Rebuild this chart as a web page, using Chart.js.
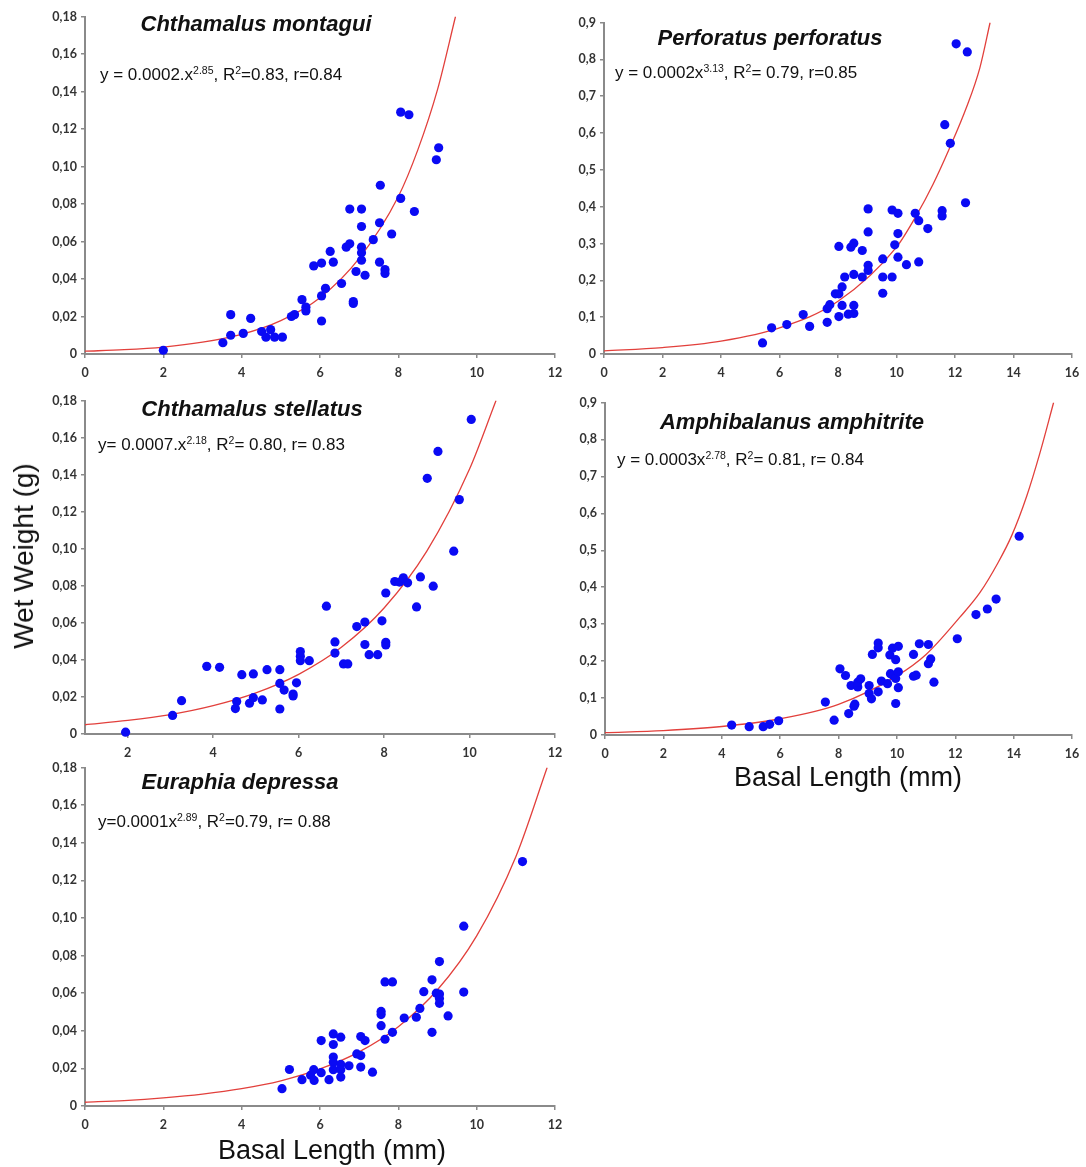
<!DOCTYPE html>
<html>
<head>
<meta charset="utf-8">
<script src="https://cdn.jsdelivr.net/npm/chart.js@4.4.0/dist/chart.umd.min.js"></script>
<style>
  body { margin: 0; background: #fff; }
  #page { position: relative; width: 1086px; height: 1167px; overflow: hidden; background: #fff; }
  canvas { position: absolute; }
  .title { position: absolute; font: italic bold 22px "Liberation Sans", Arial, sans-serif; color: #111; white-space: nowrap; transform: translate(-50%, -50%); }
  .eq { position: absolute; font: 17px "Liberation Sans", Arial, sans-serif; color: #111; white-space: nowrap; transform: translateY(-50%); }
  .eq sup { font-size: 10.5px; vertical-align: 6px; line-height: 0; }
  .axtitle { position: absolute; font: 27px "Liberation Sans", Arial, sans-serif; color: #111; white-space: nowrap; transform: translate(-50%, -50%); }
  .axtitle.rot { font-size: 28px; transform: translate(-50%, -50%) rotate(-90deg); }
</style>
</head>
<body>
<div id="page">
  <canvas id="c1"></canvas>
  <canvas id="c2"></canvas>
  <canvas id="c3"></canvas>
  <canvas id="c4"></canvas>
  <canvas id="c5"></canvas>

  <div class="title" style="left:256px;top:24px">Chthamalus montagui</div>
  <div class="title" style="left:770px;top:38px">Perforatus perforatus</div>
  <div class="title" style="left:252px;top:409px">Chthamalus stellatus</div>
  <div class="title" style="left:792px;top:422px">Amphibalanus amphitrite</div>
  <div class="title" style="left:240px;top:782px">Euraphia depressa</div>

  <div class="eq" style="left:100px;top:75px">y = 0.0002.x<sup>2.85</sup>, R<sup>2</sup>=0.83, r=0.84</div>
  <div class="eq" style="left:615px;top:73px">y = 0.0002x<sup>3.13</sup>, R<sup>2</sup>= 0.79, r=0.85</div>
  <div class="eq" style="left:98px;top:445px">y= 0.0007.x<sup>2.18</sup>, R<sup>2</sup>= 0.80, r= 0.83</div>
  <div class="eq" style="left:617px;top:460px">y = 0.0003x<sup>2.78</sup>, R<sup>2</sup>= 0.81, r= 0.84</div>
  <div class="eq" style="left:98px;top:822px">y=0.0001x<sup>2.89</sup>, R<sup>2</sup>=0.79, r= 0.88</div>

  <div class="axtitle rot" style="left:24px;top:556px">Wet Weight (g)</div>
  <div class="axtitle" style="left:848px;top:777px">Basal Length (mm)</div>
  <div class="axtitle" style="left:332px;top:1150px">Basal Length (mm)</div>
</div>

<script>
// Chthamalus montagui
const montaguiX = [2.0, 3.52, 3.72, 3.72, 4.04, 4.23, 4.51, 4.62, 4.74, 4.84, 5.04, 5.27, 5.35, 5.54, 5.64, 5.64,
  5.84, 6.04, 6.04, 6.04, 6.14, 6.26, 6.34, 6.55, 6.67, 6.76, 6.76, 6.85, 6.85, 6.92, 7.06, 7.06, 7.06, 7.06, 7.06,
  7.15, 7.36, 7.54, 7.52, 7.52, 7.66, 7.66, 7.83, 8.06, 8.06, 8.27, 8.41, 8.97, 9.03];
const montaguiY = [0.002, 0.006, 0.021, 0.010, 0.011, 0.019, 0.012, 0.009, 0.013, 0.009, 0.009, 0.020, 0.021, 0.029, 0.025, 0.023,
  0.047, 0.0485, 0.031, 0.0176, 0.035, 0.0547, 0.049, 0.0376, 0.057, 0.0588, 0.0773, 0.028, 0.027, 0.044, 0.0773, 0.068, 0.057, 0.054, 0.050,
  0.042, 0.061, 0.090, 0.070, 0.049, 0.045, 0.043, 0.064, 0.083, 0.129, 0.1276, 0.076, 0.1036, 0.110];
const montaguiFitX = [0, 1, 2, 3, 4, 5, 6, 7, 8, 8.5, 9, 9.46];
const montaguiFitY = [0.0015, 0.0023, 0.0037, 0.0063, 0.0105, 0.0178, 0.030, 0.051, 0.084, 0.109, 0.141, 0.18];

// Perforatus perforatus
const perforatusX = [5.42, 5.73, 6.25, 6.81, 7.03, 7.63, 7.63, 7.72, 7.91, 8.03, 8.14, 8.14, 8.03, 8.03, 8.23, 8.35,
  8.44, 8.54, 8.54, 8.54, 8.54, 8.83, 8.83, 9.03, 9.03, 9.03, 9.03, 9.53, 9.53, 9.53, 9.85, 9.85, 9.94, 10.05, 10.05,
  10.05, 10.34, 10.64, 10.76, 10.76, 11.07, 11.56, 11.56, 11.65, 11.84, 12.04, 12.36, 12.42];
const perforatusY = [0.030, 0.071, 0.080, 0.107, 0.075, 0.086, 0.123, 0.134, 0.1635, 0.1635, 0.182, 0.132, 0.1015, 0.292, 0.209, 0.108,
  0.290, 0.301, 0.216, 0.132, 0.110, 0.281, 0.209, 0.394, 0.3315, 0.241, 0.227, 0.258, 0.209, 0.165, 0.209, 0.391, 0.2965, 0.382, 0.327,
  0.263, 0.2425, 0.382, 0.362, 0.250, 0.3405, 0.389, 0.3747, 0.6226, 0.572, 0.842, 0.4106, 0.820];
const perforatusFitX = [0, 2, 4, 6, 8, 10, 10.68, 11.25, 11.82, 12.39, 12.85, 13.2];
const perforatusFitY = [0.0086, 0.0174, 0.035, 0.071, 0.143, 0.29, 0.376, 0.461, 0.56, 0.669, 0.777, 0.9];

// Chthamalus stellatus
const stellatusX = [1.95, 3.05, 3.26, 3.85, 4.15, 4.52, 4.55, 4.67, 4.85, 4.94, 4.94, 5.15, 5.26, 5.56, 5.56, 5.56,
  5.66, 5.87, 5.87, 5.95, 6.04, 6.04, 6.04, 6.25, 6.65, 6.85, 6.85, 7.05, 7.15, 7.36, 7.55, 7.55, 7.65, 7.85, 7.95,
  8.04, 8.04, 8.04, 8.25, 8.36, 8.45, 8.55, 8.76, 8.85, 9.01, 9.15, 9.26, 9.63, 9.76, 10.04];
const stellatusY = [0.001, 0.010, 0.018, 0.0365, 0.036, 0.0137, 0.0175, 0.032, 0.0166, 0.0196, 0.0324, 0.0184, 0.0347, 0.0347, 0.0273, 0.0135,
  0.0237, 0.0216, 0.0205, 0.0276, 0.0445, 0.042, 0.0396, 0.0396, 0.069, 0.0497, 0.0437, 0.0378, 0.0378, 0.058, 0.0604, 0.0483, 0.0428, 0.0428, 0.0611,
  0.0761, 0.0495, 0.0481, 0.0823, 0.082, 0.0843, 0.0816, 0.0686, 0.0848, 0.138, 0.0798, 0.1525, 0.0987, 0.1265, 0.1698];
const stellatusFitX = [1, 2, 3, 4, 5, 6, 7, 8, 9, 10, 10.62];
const stellatusFitY = [0.005, 0.0073, 0.0105, 0.0153, 0.0222, 0.0322, 0.0468, 0.068, 0.0987, 0.143, 0.18];

// Amphibalanus amphitrite
const amphitriteX = [4.34, 4.94, 5.42, 5.64, 5.95, 7.55, 7.85, 8.05, 8.24, 8.35, 8.43, 8.53, 8.56, 8.66, 8.66, 8.76,
  9.05, 9.05, 9.13, 9.16, 9.36, 9.36, 9.36, 9.47, 9.68, 9.76, 9.78, 9.85, 9.87, 9.96, 9.96, 9.96, 10.05, 10.05, 10.05,
  10.57, 10.57, 10.66, 10.77, 11.08, 11.08, 11.16, 11.27, 12.07, 12.71, 13.1, 13.4, 14.19];
const amphitriteY = [0.027, 0.0225, 0.0225, 0.029, 0.0386, 0.089, 0.040, 0.179, 0.161, 0.058, 0.134, 0.078, 0.0835, 0.130, 0.143, 0.152,
  0.134, 0.112, 0.098, 0.218, 0.249, 0.236, 0.117, 0.146, 0.139, 0.2165, 0.166, 0.235, 0.161, 0.204, 0.0853, 0.153, 0.240, 0.171, 0.128,
  0.218, 0.159, 0.162, 0.247, 0.245, 0.193, 0.206, 0.143, 0.2605, 0.326, 0.341, 0.368, 0.538];
const amphitriteFitX = [0, 2, 4, 6, 8, 10, 11, 12.16, 12.85, 13.47, 13.93, 14.45, 14.9, 15.37];
const amphitriteFitY = [0.0063, 0.012, 0.023, 0.044, 0.083, 0.16, 0.218, 0.319, 0.386, 0.467, 0.539, 0.647, 0.763, 0.9];

// Euraphia depressa
const depressaX = [5.03, 5.22, 5.54, 5.76, 5.84, 5.85, 6.03, 6.03, 6.23, 6.34, 6.34, 6.34, 6.34, 6.34, 6.53, 6.53,
  6.53, 6.53, 6.74, 6.94, 7.04, 7.04, 7.04, 7.15, 7.34, 7.56, 7.56, 7.56, 7.66, 7.66, 7.85, 7.85, 8.15, 8.46, 8.55,
  8.65, 8.86, 8.86, 8.97, 9.05, 9.05, 9.05, 9.05, 9.27, 9.67, 9.67, 11.17];
const depressaY = [0.0092, 0.0194, 0.014, 0.0164, 0.0193, 0.0136, 0.0177, 0.0348, 0.014, 0.0383, 0.0327, 0.026, 0.0233, 0.0193, 0.0366, 0.0221,
  0.0193, 0.0154, 0.0214, 0.0277, 0.0369, 0.0268, 0.0207, 0.0348, 0.018, 0.0503, 0.0486, 0.0427, 0.066, 0.0355, 0.066, 0.0392, 0.0468, 0.0472, 0.0519,
  0.0608, 0.0671, 0.0392, 0.060, 0.0768, 0.0595, 0.0572, 0.0546, 0.0479, 0.0956, 0.0606, 0.130];
const depressaFitX = [0, 1, 2, 3, 4, 5, 6, 7, 8, 9, 10, 11, 11.8];
const depressaFitY = [0.002, 0.0029, 0.0043, 0.0063, 0.0092, 0.0134, 0.0197, 0.0288, 0.0422, 0.0618, 0.0905, 0.1326, 0.18];

// layout of the plot areas on the page
const YAXIS_W = 60, XAXIS_H = 34, PAD_T = 10, PAD_R = 16;
const axisGray = '#8a8a8a';

function pairs(xs, ys) {
  return xs.map((x, i) => ({ x: x, y: ys[i] }));
}

function makePanel(id, area, xs, ys, fxs, fys, xMin, xMax, yMax, yStep, yDec) {
  const cv = document.getElementById(id);
  cv.width = area.r - area.l + YAXIS_W + PAD_R;
  cv.height = area.b - area.t + PAD_T + XAXIS_H;
  cv.style.left = (area.l - YAXIS_W) + 'px';
  cv.style.top = (area.t - PAD_T) + 'px';

  const tickFont = { family: 'Lato', weight: 'bold', size: 12.5 };
  return new Chart(cv, {
    type: 'scatter',
    data: {
      datasets: [
        {
          data: pairs(xs, ys),
          backgroundColor: '#0a0af4',
          borderWidth: 0,
          pointRadius: 4.6,
          clip: false,
          order: 1
        },
        {
          type: 'line',
          data: pairs(fxs, fys),
          borderColor: '#e2403c',
          borderWidth: 1.3,
          pointRadius: 0,
          fill: false,
          cubicInterpolationMode: 'monotone',
          order: 2
        }
      ]
    },
    options: {
      responsive: false,
      animation: false,
      events: [],
      layout: { padding: { top: PAD_T, right: PAD_R, left: 0, bottom: 0 } },
      plugins: { legend: { display: false }, tooltip: { enabled: false } },
      scales: {
        x: {
          type: 'linear',
          min: xMin,
          max: xMax,
          afterFit: s => { s.height = XAXIS_H; },
          afterBuildTicks: s => { s.ticks = s.ticks.filter(t => t.value % 2 === 0); },
          ticks: { stepSize: 2, padding: 7, color: '#333', font: tickFont, callback: v => String(v) },
          grid: { display: true, drawOnChartArea: false, drawTicks: true, tickLength: 4, color: axisGray, lineWidth: 1.5 },
          border: { display: true, color: axisGray, width: 2 }
        },
        y: {
          min: 0,
          max: yMax,
          afterFit: s => { s.width = YAXIS_W; },
          ticks: {
            stepSize: yStep, padding: 4, color: '#333', font: tickFont,
            callback: v => v === 0 ? '0' : v.toFixed(yDec).replace('.', ',')
          },
          grid: { display: true, drawOnChartArea: false, drawTicks: true, tickLength: 4, color: axisGray, lineWidth: 1.5 },
          border: { display: true, color: axisGray, width: 2 }
        }
      }
    }
  });
}

makePanel('c1', { l: 85, r: 555, t: 15, b: 354 }, montaguiX, montaguiY, montaguiFitX, montaguiFitY, 0, 12, 0.18, 0.02, 2);
makePanel('c2', { l: 604, r: 1072, t: 21, b: 354 }, perforatusX, perforatusY, perforatusFitX, perforatusFitY, 0, 16, 0.9, 0.1, 1);
makePanel('c3', { l: 85, r: 555, t: 399, b: 734 }, stellatusX, stellatusY, stellatusFitX, stellatusFitY, 1, 12, 0.18, 0.02, 2);
makePanel('c4', { l: 605, r: 1072, t: 401, b: 735 }, amphitriteX, amphitriteY, amphitriteFitX, amphitriteFitY, 0, 16, 0.9, 0.1, 1);
makePanel('c5', { l: 85, r: 555, t: 766, b: 1106 }, depressaX, depressaY, depressaFitX, depressaFitY, 0, 12, 0.18, 0.02, 2);
</script>
</body>
</html>
